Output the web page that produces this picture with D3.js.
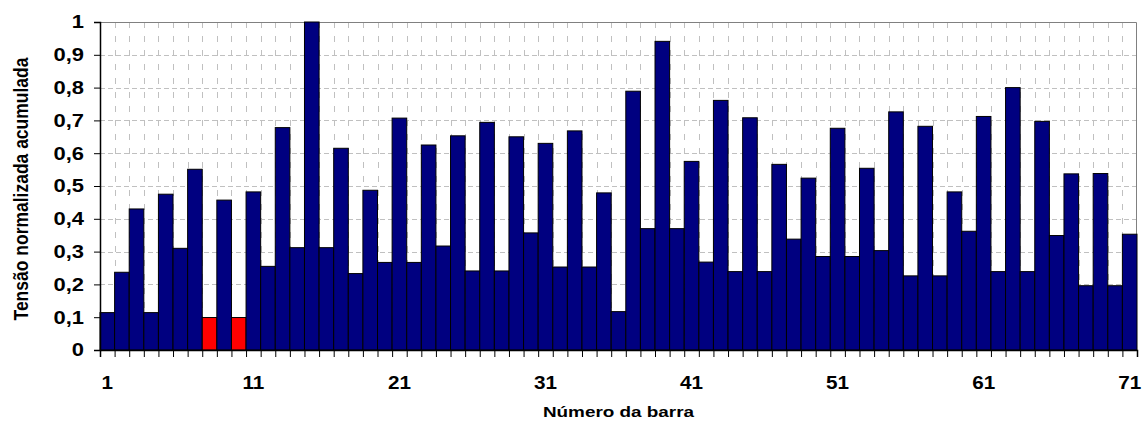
<!DOCTYPE html>
<html>
<head>
<meta charset="utf-8">
<script src="https://cdn.jsdelivr.net/npm/d3@7"></script>
<style>
  html, body { margin: 0; padding: 0; background: #fff; }
  svg { display: block; }
  text { font-family: "Liberation Sans", Arial, sans-serif; font-weight: bold; fill: #000; }
</style>
</head>
<body>
<svg id="chart" width="1142" height="421"></svg>
<script>
// Bar numbers 1..71
const barNumbers = d3.range(1, 72);
// Accumulated normalized tension per bar
const tensionValues = [
  0.114, 0.237, 0.430, 0.114, 0.475, 0.310, 0.551, 0.099, 0.457, 0.099,
  0.482, 0.255, 0.678, 0.312, 1.000, 0.312, 0.615, 0.233, 0.487, 0.267,
  0.707, 0.267, 0.625, 0.317, 0.653, 0.241, 0.694, 0.241, 0.650, 0.357,
  0.630, 0.253, 0.668, 0.253, 0.479, 0.117, 0.789, 0.370, 0.941, 0.370,
  0.575, 0.268, 0.761, 0.239, 0.708, 0.239, 0.566, 0.338, 0.524, 0.285,
  0.676, 0.285, 0.554, 0.303, 0.726, 0.226, 0.682, 0.226, 0.482, 0.362,
  0.712, 0.239, 0.800, 0.239, 0.697, 0.349, 0.537, 0.196, 0.538, 0.196,
  0.353
];
// Highlighted (red) bars
const highlightedBars = [8, 10];
const yTickValues = [0, 0.1, 0.2, 0.3, 0.4, 0.5, 0.6, 0.7, 0.8, 0.9, 1];
const yTickLabels = ["0", "0,1", "0,2", "0,3", "0,4", "0,5", "0,6", "0,7", "0,8", "0,9", "1"];
const xTickLabels = [1, 11, 21, 31, 41, 51, 61, 71];
const xTitle = "Número da barra";
const yTitle = "Tensão normalizada acumulada";

(function () {
const data = barNumbers.map((n, i) => ({ n, v: tensionValues[i] }));

const svg = d3.select("#chart");
const pLeft = 100, pRight = 1137, pTop = 22, pBottom = 350;

const x = d3.scaleBand().domain(barNumbers).range([pLeft, pRight]).padding(0);
const y = d3.scaleLinear().domain([0, 1]).range([pBottom, pTop]);

// Grid: vertical dashed lines at bar boundaries
const g = svg.append("g");
const boundaries = barNumbers.slice(1).map(n => Math.round(x(n)) + 0.5);
g.selectAll("line.vg").data(boundaries).join("line")
  .attr("x1", d => d).attr("x2", d => d)
  .attr("y1", pTop).attr("y2", pBottom)
  .attr("stroke", "#c0c0c0").attr("stroke-width", 1)
  .attr("stroke-dasharray", "6,8");
// Horizontal dashed lines
g.selectAll("line.hg").data(yTickValues.slice(1, -1)).join("line")
  .attr("x1", pLeft).attr("x2", pRight)
  .attr("y1", d => Math.round(y(d)) + 0.5).attr("y2", d => Math.round(y(d)) + 0.5)
  .attr("stroke", "#c0c0c0").attr("stroke-width", 1)
  .attr("stroke-dasharray", "5,3");

// Plot border (top and right, gray)
svg.append("path")
  .attr("d", `M${pLeft},${pTop + 0.5}H${pRight - 0.5}V${pBottom}`)
  .attr("fill", "none").attr("stroke", "#808080").attr("stroke-width", 1);

// Bars
svg.append("g").selectAll("rect").data(data).join("rect")
  .attr("x", d => x(d.n))
  .attr("y", d => y(d.v))
  .attr("width", x.bandwidth())
  .attr("height", d => y(0) - y(d.v))
  .attr("fill", d => highlightedBars.includes(d.n) ? "#ff0000" : "#000080")
  .attr("stroke", "#000").attr("stroke-width", 1);

// Y axis (ticks + line); labels drawn separately with horizontal stretch
const yAxis = d3.axisLeft(y).tickValues(yTickValues).tickFormat("").tickSize(6);
const ya = svg.append("g").attr("transform", `translate(${pLeft},0)`).call(yAxis);
ya.select(".domain").attr("stroke", "#000").attr("stroke-width", 1.5);
ya.selectAll(".tick line").attr("stroke", "#000");

svg.append("g").selectAll("text").data(yTickValues).join("text")
  .attr("transform", d => `translate(84,${y(d)}) scale(1.22,1)`)
  .attr("dy", "0.36em")
  .attr("text-anchor", "end")
  .style("font-size", "18px")
  .text((d, i) => yTickLabels[i]);

// X axis: ticks at every bar boundary
const xBound = d3.scaleLinear().domain([0, 71]).range([pLeft, pRight]);
const xa = svg.append("g").attr("transform", `translate(0,${pBottom})`)
  .call(d3.axisBottom(xBound).tickValues(d3.range(0, 72)).tickFormat("").tickSize(7));
xa.select(".domain").attr("stroke", "#000").attr("stroke-width", 1.5);
xa.selectAll(".tick line").attr("stroke", "#000");

// X tick labels at bar centers
svg.append("g").selectAll("text").data(xTickLabels).join("text")
  .attr("transform", d => `translate(${x(d) + x.bandwidth() / 2},389) scale(1.15,1)`)
  .attr("text-anchor", "middle")
  .style("font-size", "18px")
  .text(d => d);

// Axis titles
svg.append("text")
  .attr("transform", `translate(${(pLeft + pRight) / 2},417) scale(1.22,1)`)
  .attr("text-anchor", "middle")
  .style("font-size", "15.5px")
  .text(xTitle);
svg.append("text")
  .attr("transform", `translate(28,${(pTop + pBottom) / 2 + 3}) rotate(-90) scale(1,1.2)`)
  .attr("text-anchor", "middle")
  .style("font-size", "17.5px")
  .text(yTitle);
})();
</script>
</body>
</html>
